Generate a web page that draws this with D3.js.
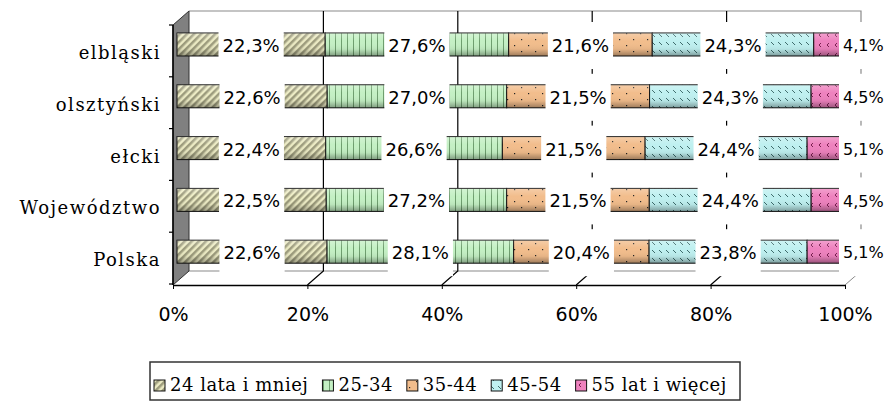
<!DOCTYPE html>
<html><head><meta charset="utf-8">
<script src="https://cdn.jsdelivr.net/npm/d3@7"></script>
<style>html,body{margin:0;padding:0;background:#fff;} svg{display:block}</style>
</head><body><svg id="c" width="889" height="403"></svg>
<script>
const categories = ["elbląski","olsztyński","ełcki","Województwo","Polska"];
const seriesNames = ["24 lata i mniej","25-34","35-44","45-54","55 lat i więcej"];
const s24 = [22.3,22.6,22.4,22.5,22.6];
const s25_34 = [27.6,27.0,26.6,27.2,28.1];
const s35_44 = [21.6,21.5,21.5,21.5,20.4];
const s45_54 = [24.3,24.3,24.4,24.4,23.8];
const s55 = [4.1,4.5,5.1,4.5,5.1];
const xTickValues = [0,0.2,0.4,0.6,0.8,1];

const seriesVals = [s24,s25_34,s35_44,s45_54,s55];
const keys = seriesNames;
const rows = categories.map((c,i)=>{const o={cat:c}; keys.forEach((k,j)=>o[k]=seriesVals[j][i]); return o;});
const stacked = d3.stack().keys(keys).offset(d3.stackOffsetExpand)(rows);

const svg = d3.select("#c");
const DX = 16, DY = -14;
const xF = d3.scaleLinear().domain([0,1]).range([173,845]);
const xB = d3.scaleLinear().domain([0,1]).range([177,841]);
const y = d3.scaleBand().domain(categories).range([25,284]).padding(0);
const barOff = 8, barH = 23;
const yBottom = 285;

// patterns
const defs = svg.append("defs");
let p = defs.append("pattern").attr("id","p0").attr("patternUnits","userSpaceOnUse").attr("width",5).attr("height",5).attr("patternTransform","rotate(45)");
p.append("rect").attr("width",5).attr("height",5).attr("fill","#ecebc4");
p.append("rect").attr("width",2.5).attr("height",5).attr("fill","#9c9b7c");
p = defs.append("pattern").attr("id","p1").attr("patternUnits","userSpaceOnUse").attr("width",6).attr("height",10);
p.append("rect").attr("width",6).attr("height",10).attr("fill","#c4f0c4");
p.append("rect").attr("x",5).attr("width",1).attr("height",10).attr("fill","#6e9e6e");
p = defs.append("pattern").attr("id","p2").attr("patternUnits","userSpaceOnUse").attr("width",14).attr("height",12);
p.append("rect").attr("width",14).attr("height",12).attr("fill","#f2bd8c");
p.append("rect").attr("x",3).attr("y",3).attr("width",1.2).attr("height",1.2).attr("fill","#222");
p.append("rect").attr("x",10).attr("y",9).attr("width",1.2).attr("height",1.2).attr("fill","#222");
p = defs.append("pattern").attr("id","p3").attr("patternUnits","userSpaceOnUse").attr("width",7).attr("height",8);
p.append("rect").attr("width",7).attr("height",8).attr("fill","#bff0f0");
p.append("path").attr("d","M1,2 L4,5").attr("stroke","#3d6b6b").attr("stroke-width",1);
p = defs.append("pattern").attr("id","p4").attr("patternUnits","userSpaceOnUse").attr("width",8).attr("height",10);
p.append("rect").attr("width",8).attr("height",10).attr("fill","#ee82be");
p.append("path").attr("d","M5,3 L3,5 L5,7").attr("stroke","#7a2050").attr("fill","none").attr("stroke-width",1);
const g = defs.append("linearGradient").attr("id","shade").attr("x1",0).attr("y1",0).attr("x2",0).attr("y2",1);
g.append("stop").attr("offset","0").attr("stop-color","#fff").attr("stop-opacity",0.25);
g.append("stop").attr("offset","0.35").attr("stop-color","#fff").attr("stop-opacity",0);
g.append("stop").attr("offset","0.7").attr("stop-color","#000").attr("stop-opacity",0.05);
g.append("stop").attr("offset","1").attr("stop-color","#000").attr("stop-opacity",0.35);
const fills = ["url(#p0)","url(#p1)","url(#p2)","url(#p3)","url(#p4)"];

// back wall / floor outlines
const topY = 25, backTop = topY+DY, backBottom = yBottom+DY;
svg.append("path").attr("d",`M${xF(0)+DX},${backTop}H${xF(1)+DX}V${backBottom}H${xF(0)+DX}`).attr("fill","none").attr("stroke","#8a8a8a").attr("stroke-width",1.2);
svg.append("line").attr("x1",xF(1)+DX).attr("y1",backBottom).attr("x2",xF(1)).attr("y2",yBottom).attr("stroke","#8a8a8a");
// gridlines
xTickValues.filter(t=>t>0&&t<1).forEach(t=>{
  svg.append("path").attr("d",`M${xF(t)},${yBottom}L${xF(t)+DX},${backBottom}V${backTop}`).attr("fill","none").attr("stroke","#000").attr("stroke-width",1.2);
});
// left wall
svg.append("path").attr("d",`M${xF(0)},${topY}L${xF(0)+DX},${backTop}V${backBottom}L${xF(0)},${yBottom}Z`).attr("fill","#808080").attr("stroke","#333").attr("stroke-width",1);

// axes
const ax = svg.append("g").attr("transform",`translate(0,${yBottom})`)
  .call(d3.axisBottom(xF).tickValues(xTickValues).tickFormat(d3.format(".0%")).tickSize(4).tickPadding(19).tickSizeOuter(0));
ax.select(".domain").attr("stroke","#000").attr("stroke-width",1.5);
ax.selectAll("text").attr("font-family","DejaVu Sans").attr("font-size",19).attr("fill","#000");
const ay = svg.append("g").attr("transform",`translate(${xF(0)},0)`)
  .call(d3.axisLeft(y).tickSize(0).tickPadding(12));
ay.select(".domain").remove();
svg.append("line").attr("x1",xF(0)).attr("x2",xF(0)).attr("y1",topY).attr("y2",yBottom).attr("stroke","#000").attr("stroke-width",1.5);
categories.concat([null]).forEach((c,i)=>{
  const yy = c===null ? y.range()[1] : y(c);
  svg.append("line").attr("x1",xF(0)-4).attr("x2",xF(0)).attr("y1",yy).attr("y2",yy).attr("stroke","#000").attr("stroke-width",1.2);
});
ay.selectAll("text").attr("font-family","DejaVu Serif").attr("font-size",18).attr("letter-spacing","1.5px").attr("dy","0.45em").attr("fill","#000");

// bars
const barG = svg.append("g");
stacked.forEach((s,si)=>{
  barG.selectAll(null).data(s).join("rect")
    .attr("x",d=>xB(d[0])).attr("y",d=>y(d.data.cat)+barOff)
    .attr("width",d=>xB(d[1])-xB(d[0])).attr("height",barH)
    .attr("fill",fills[si]).attr("stroke","#111").attr("stroke-width",1);
  barG.selectAll(null).data(s).join("rect")
    .attr("x",d=>xB(d[0])).attr("y",d=>y(d.data.cat)+barOff)
    .attr("width",d=>xB(d[1])-xB(d[0])).attr("height",barH)
    .attr("fill","url(#shade)");
});
// labels
const lblG = svg.append("g");
stacked.forEach((s,si)=>{
  s.forEach((d,i)=>{
    const v = seriesVals[si][i];
    const last = si===stacked.length-1;
    const cy = y(d.data.cat)+barOff+barH/2+1;
    const gx = lblG.append("g");
    const t = gx.append("text").text(d3.format(".1f")(v).replace(".",",")+"%")
      .attr("font-family","DejaVu Sans").attr("font-size",last?16:18).attr("fill","#000")
      .attr("dy","0.36em").attr("y",cy);
    if(last){ t.attr("x",xB(d[1])+2).attr("text-anchor","start"); }
    else { t.attr("x",(xB(d[0])+xB(d[1]))/2).attr("text-anchor","middle"); }
    const w = t.node().getComputedTextLength();
    const lx = last ? xB(d[1])+2 : (xB(d[0])+xB(d[1]))/2 - w/2;
    gx.insert("rect","text").attr("x",lx-4).attr("y",cy-23.5).attr("width",w+8).attr("height",47).attr("fill","#fff");
  });
});

// legend
const lg = svg.append("g");
lg.append("rect").attr("x",150).attr("y",362).attr("width",590).attr("height",38).attr("fill","#fff").attr("stroke","#333").attr("stroke-width",1.5);
let lxPos = 154;
seriesNames.forEach((n,i)=>{
  lg.append("rect").attr("x",lxPos).attr("y",380).attr("width",11).attr("height",11).attr("fill",fills[i]).attr("stroke","#111");
  const t = lg.append("text").attr("x",lxPos+16).attr("y",391).text(n)
    .attr("font-family","DejaVu Serif").attr("font-size",18).attr("letter-spacing","0.5px").attr("fill","#000");
  lxPos += 16 + t.node().getComputedTextLength() + 14;
});
</script></body></html>
